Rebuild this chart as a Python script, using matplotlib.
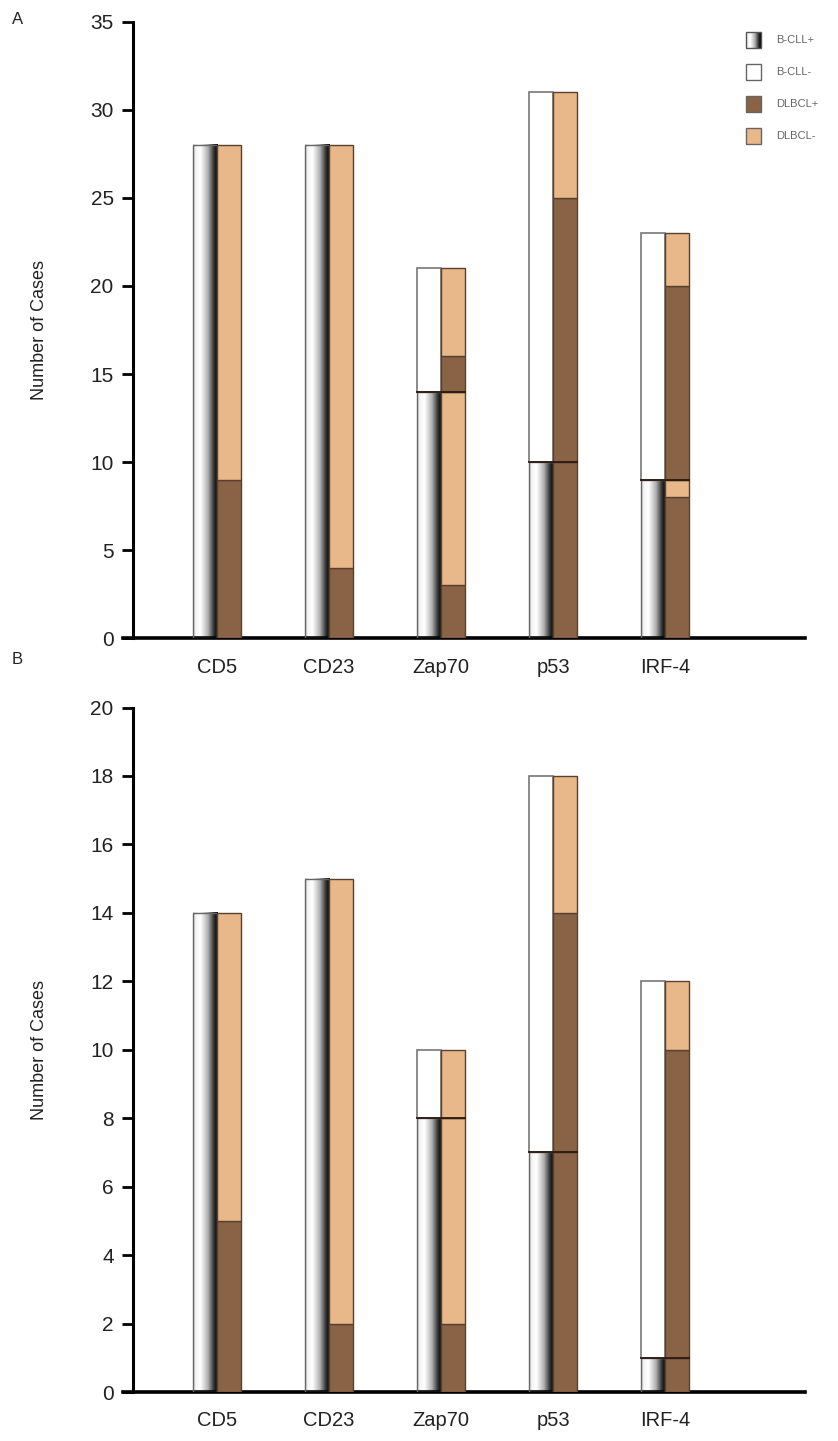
import matplotlib
matplotlib.use("Agg")
import matplotlib.pyplot as plt
import numpy as np
from matplotlib.colors import LinearSegmentedColormap
from matplotlib.patches import Rectangle

plt.rcParams['font.family'] = ['Liberation Sans', 'DejaVu Sans']

categories = ["CD5", "CD23", "Zap70", "p53", "IRF-4"]

# Panel A
a_bcll_pos = [28, 28, 14, 10, 9]
a_bcll_neg = [0, 0, 7, 21, 14]
a_dl_pos_in_pos = [9, 4, 3, 10, 8]
a_dl_neg_in_pos = [19, 24, 11, 0, 1]
a_dl_pos_in_neg = [0, 0, 2, 15, 11]
a_dl_neg_in_neg = [0, 0, 5, 6, 3]

# Panel B
b_bcll_pos = [14, 15, 8, 7, 1]
b_bcll_neg = [0, 0, 2, 11, 11]
b_dl_pos_in_pos = [5, 2, 2, 7, 1]
b_dl_neg_in_pos = [9, 13, 6, 0, 0]
b_dl_pos_in_neg = [0, 0, 0, 7, 9]
b_dl_neg_in_neg = [0, 0, 2, 4, 2]

legend_labels = ["B-CLL+", "B-CLL-", "DLBCL+", "DLBCL-"]

BROWN = "#8a6246"
TAN = "#e8b888"
TXT = "#222222"
grad_cmap = LinearSegmentedColormap.from_list(
    "g", [(0, "#c8c8c8"), (0.1, "#f4f4f4"), (0.3, "#ffffff"),
          (0.6, "#b0b0b0"), (0.85, "#303030"), (1.0, "#000000")])
grad = np.linspace(0, 1, 64).reshape(1, -1)

W = 838
H = 1441
fig = plt.figure(figsize=(W / 100, H / 100), dpi=100)

BW = 0.215


def grad_bar(ax, x0, x1, y0, y1):
    ax.imshow(grad, cmap=grad_cmap, extent=[x0, x1, y0, y1], aspect="auto",
              interpolation="bilinear", zorder=2)
    ax.add_patch(Rectangle((x0, y0), x1 - x0, y1 - y0, fill=False,
                           edgecolor="#666666", lw=1.0, zorder=3))


def panel(rect, ymax, ystep, bpos, bneg, dpp, dnp, dpn, dnn, label_pad):
    ax = fig.add_axes(rect)
    x = np.arange(len(categories))
    for i in x:
        # B-CLL column
        l = i - BW
        if bpos[i] > 0:
            grad_bar(ax, l, i, 0, bpos[i])
        if bneg[i] > 0:
            ax.bar(l, bneg[i], bottom=bpos[i], width=BW, align="edge",
                   color="white", edgecolor="#777777", lw=1.2, zorder=3)
        # DLBCL column
        bottom = 0
        for val, col in [(dpp[i], BROWN), (dnp[i], TAN),
                         (dpn[i], BROWN), (dnn[i], TAN)]:
            if val > 0:
                ax.bar(i, val, bottom=bottom, width=BW, align="edge",
                       color=col, edgecolor="#5a4030", lw=1.0, zorder=3)
            bottom += val
        if bpos[i] > 0 and bneg[i] > 0:
            ax.plot([i - BW, i + BW], [bpos[i], bpos[i]], color="#2a1a10",
                    lw=1.3, zorder=4)
    ax.set_xlim(-0.84, 5.25)
    ax.set_ylim(0, ymax)
    for s in ["top", "right"]:
        ax.spines[s].set_visible(False)
    ax.spines["left"].set_position(("data", -0.75))
    ax.spines["left"].set_linewidth(2.2)
    ax.spines["bottom"].set_linewidth(2.6)
    ax.set_yticks(np.arange(0, ymax + 0.1, ystep))
    ax.tick_params(axis="y", direction="out", length=8, width=2,
                   labelsize=15, pad=6, labelcolor=TXT)
    ax.set_xticks(x)
    ax.set_xticklabels(categories, fontsize=14.5, color=TXT)
    ax.tick_params(axis="x", length=0, pad=label_pad)
    ax.set_ylabel("Number of Cases", fontsize=13, color=TXT)
    ax.yaxis.set_label_coords(-0.11, 0.5)
    return ax


axA = panel([0.1468, 0.557, 0.814, 0.428], 35, 5, a_bcll_pos, a_bcll_neg,
            a_dl_pos_in_pos, a_dl_neg_in_pos, a_dl_pos_in_neg,
            a_dl_neg_in_neg, 14)
axB = panel([0.1468, 0.034, 0.814, 0.475], 20, 2, b_bcll_pos, b_bcll_neg,
            b_dl_pos_in_pos, b_dl_neg_in_pos, b_dl_pos_in_neg,
            b_dl_neg_in_neg, 14)

fig.text(12 / W, 1 - 20 / H, "A", fontsize=12, va="center", color=TXT)
fig.text(12 / W, 1 - 660 / H, "B", fontsize=12, va="center", color=TXT)

# Legend
lg = fig.add_axes([0, 0, 1, 1], facecolor="none")
lg.set_xlim(0, W)
lg.set_ylim(H, 0)
lg.axis("off")
ys = [40, 72, 104, 136]
for k, (yy, lab) in enumerate(zip(ys, legend_labels)):
    x0, x1, y0, y1 = 746, 761, yy - 8, yy + 8
    if k == 0:
        lg.imshow(grad, cmap=grad_cmap, extent=[x0, x1, y1, y0],
                  aspect="auto", interpolation="bilinear")
        lg.add_patch(Rectangle((x0, y0), x1 - x0, y1 - y0, fill=False,
                               edgecolor="#555555", lw=1.0))
    else:
        fc = {1: "white", 2: BROWN, 3: TAN}[k]
        lg.add_patch(Rectangle((x0, y0), x1 - x0, y1 - y0, facecolor=fc,
                               edgecolor="#666666", lw=1.0))
    lg.text(776, yy, lab, fontsize=8, color="#666666", va="center")
lg.set_xlim(0, W)
lg.set_ylim(H, 0)

fig.savefig("out.png", dpi=100)
